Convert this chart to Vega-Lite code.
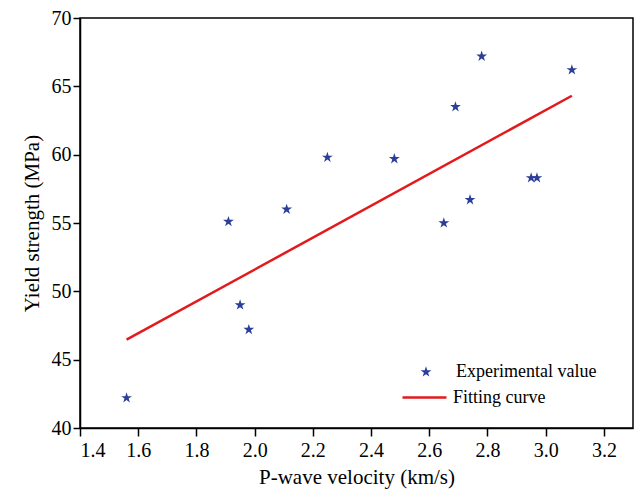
{
  "$schema": "https://vega.github.io/schema/vega-lite/v6.json",
  "width": 553,
  "height": 410,
  "autosize": {"type": "none"},
  "padding": {"left": 80, "top": 18, "right": 3, "bottom": 66},
  "background": "white",
  "config": {
    "view": {"stroke": "black", "strokeWidth": 1.5},
    "axis": {
      "domainColor": "black", "domainWidth": 1.5, "tickColor": "black", "tickWidth": 1.5,
      "labelColor": "black", "titleColor": "black", "labelFont": "Liberation Serif", "titleFont": "Liberation Serif",
      "labelFontSize": 20, "titleFontSize": 21, "titleFontWeight": "normal", "grid": false
    },
    "legend": {"labelFont": "Liberation Serif", "labelFontSize": 18, "labelColor": "black"}
  },
  "layer": [
    {
      "data": {"values": [
        {"v": 1.56, "s": 42.2, "series": "Experimental value"},
        {"v": 1.95, "s": 49.0, "series": "Experimental value"},
        {"v": 1.98, "s": 47.2, "series": "Experimental value"},
        {"v": 1.91, "s": 55.1, "series": "Experimental value"},
        {"v": 2.11, "s": 56.0, "series": "Experimental value"},
        {"v": 2.25, "s": 59.8, "series": "Experimental value"},
        {"v": 2.48, "s": 59.7, "series": "Experimental value"},
        {"v": 2.65, "s": 55.0, "series": "Experimental value"},
        {"v": 2.69, "s": 63.5, "series": "Experimental value"},
        {"v": 2.74, "s": 56.7, "series": "Experimental value"},
        {"v": 2.78, "s": 67.2, "series": "Experimental value"},
        {"v": 2.95, "s": 58.3, "series": "Experimental value"},
        {"v": 2.97, "s": 58.3, "series": "Experimental value"},
        {"v": 3.09, "s": 66.2, "series": "Experimental value"}
      ]},
      "mark": {"type": "point", "shape": "M0,-1L0.225,-0.309L0.951,-0.309L0.363,0.118L0.588,0.809L0,0.382L-0.588,0.809L-0.363,0.118L-0.951,-0.309L-0.225,-0.309Z", "filled": true, "size": 130, "opacity": 1},
      "encoding": {
        "x": {"field": "v", "type": "quantitative", "scale": {"domain": [1.4, 3.3], "nice": false, "zero": false},
          "axis": {"title": "P-wave velocity (km/s)", "values": [1.4, 1.6, 1.8, 2.0, 2.2, 2.4, 2.6, 2.8, 3.0, 3.2], "format": ".1f", "tickSize": 8, "labelPadding": 4, "titlePadding": 6}},
        "y": {"field": "s", "type": "quantitative", "scale": {"domain": [40, 70], "nice": false, "zero": false},
          "axis": {"title": "Yield strength (MPa)", "values": [40, 45, 50, 55, 60, 65, 70], "tickSize": 7, "labelPadding": 2, "titlePadding": 9}},
        "color": {"field": "series", "type": "nominal", "scale": {"domain": ["Experimental value"], "range": ["#2b3f99"]},
          "legend": {"title": null, "orient": "none", "legendX": 337, "legendY": 345, "symbolType": "M0,-1L0.225,-0.309L0.951,-0.309L0.363,0.118L0.588,0.809L0,0.382L-0.588,0.809L-0.363,0.118L-0.951,-0.309L-0.225,-0.309Z", "symbolSize": 130, "labelOffset": 21, "padding": 0}}
      }
    },
    {
      "data": {"values": [
        {"v": 1.56, "s": 46.46, "series": "Fitting curve"},
        {"v": 3.09, "s": 64.31, "series": "Fitting curve"}
      ]},
      "mark": {"type": "line", "strokeWidth": 2.5},
      "encoding": {
        "x": {"field": "v", "type": "quantitative"},
        "y": {"field": "s", "type": "quantitative"},
        "stroke": {"field": "series", "type": "nominal", "scale": {"domain": ["Fitting curve"], "range": ["#e31a1c"]},
          "legend": {"title": null, "orient": "none", "legendX": 321, "legendY": 356, "symbolType": "stroke", "symbolSize": 1936, "symbolStrokeWidth": 2.5, "labelOffset": 5, "padding": 0}}
      }
    }
  ]
}
